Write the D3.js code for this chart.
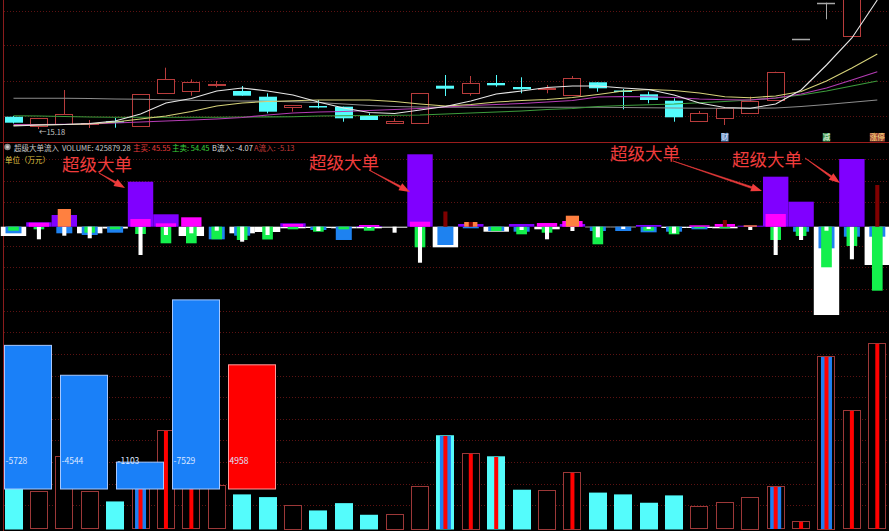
<!DOCTYPE html>
<html><head><meta charset="utf-8">
<script src="https://cdn.jsdelivr.net/npm/d3@7"></script>
<style>
html,body{margin:0;padding:0;background:#000;overflow:hidden;}
svg{display:block;}
text{font-family:"Noto Sans CJK SC","Noto Sans",sans-serif;}
</style></head><body>
<svg id="c" width="889" height="531"></svg>
<script>
// ---------- data ----------
const bars = d3.range(35);
const openP  = [15.313,15.22,15.24,15.243,15.267,15.22,15.547,15.567,15.637,15.57,15.513,15.407,15.42,15.413,15.32,15.253,15.247,15.623,15.547,15.65,15.61,15.593,15.537,15.657,15.575,15.537,15.473,15.27,15.297,15.353,15.48,16.09,16.453,16.12,16.60];
const highP  = [15.32,15.30,15.58,15.28,15.30,15.54,15.803,15.687,15.67,15.62,15.547,15.43,15.48,15.413,15.347,15.297,15.547,15.73,15.72,15.73,15.707,15.63,15.72,15.657,15.59,15.563,15.497,15.37,15.397,15.513,15.763,16.09,16.453,16.76,17.40];
const lowP   = [15.245,15.19,15.235,15.20,15.203,15.213,15.547,15.523,15.607,15.523,15.347,15.363,15.397,15.263,15.28,15.24,15.247,15.52,15.523,15.613,15.547,15.547,15.537,15.563,15.387,15.447,15.263,15.27,15.23,15.353,15.48,16.09,16.287,16.12,16.58];
const closeP = [15.253,15.297,15.34,15.25,15.26,15.537,15.687,15.66,15.643,15.523,15.363,15.43,15.407,15.297,15.28,15.27,15.547,15.593,15.647,15.627,15.587,15.603,15.703,15.597,15.56,15.48,15.307,15.347,15.397,15.47,15.763,16.09,16.453,16.73,17.36];
const ma5  = [15.22,15.23,15.235,15.245,15.27,15.34,15.45,15.495,15.57,15.60,15.57,15.53,15.46,15.40,15.355,15.345,15.38,15.415,15.47,15.54,15.57,15.605,15.62,15.62,15.60,15.585,15.53,15.45,15.405,15.397,15.44,15.58,15.83,16.10,16.48];
const ma10 = [15.225,15.23,15.235,15.24,15.26,15.29,15.32,15.365,15.42,15.45,15.465,15.473,15.48,15.48,15.48,15.465,15.44,15.42,15.435,15.46,15.475,15.485,15.505,15.535,15.57,15.585,15.575,15.55,15.513,15.503,15.52,15.565,15.67,15.80,15.94];
const ma20 = [15.235,15.235,15.237,15.24,15.25,15.26,15.27,15.28,15.29,15.305,15.33,15.35,15.36,15.365,15.375,15.385,15.395,15.41,15.425,15.435,15.445,15.46,15.475,15.51,15.515,15.513,15.505,15.49,15.483,15.48,15.50,15.54,15.60,15.68,15.763];
const ma30 = [15.323,15.32,15.315,15.31,15.307,15.307,15.307,15.307,15.308,15.31,15.311,15.313,15.32,15.323,15.325,15.328,15.33,15.34,15.35,15.36,15.37,15.385,15.395,15.415,15.425,15.433,15.44,15.453,15.465,15.48,15.50,15.53,15.57,15.62,15.67];
const ma60 = [15.497,15.497,15.497,15.495,15.49,15.487,15.482,15.477,15.473,15.47,15.467,15.463,15.455,15.44,15.425,15.415,15.41,15.407,15.407,15.407,15.407,15.407,15.407,15.407,15.405,15.402,15.40,15.397,15.397,15.397,15.40,15.415,15.435,15.457,15.48];
const priceGrid = [16.37,16.03,15.673,15.32];
const lowLabel = "15.18";

// fund flow (万元)
const superIn = [0,203,540,0,0,2079,573,0,0,0,0,157,0,0,32,0,3344,0,125,0,125,0,125,0,0,79,0,0,0,46,2310,1155,0,3127,0];
const bigIn   = [0,185,0,0,0,356,157,434,0,0,0,125,0,0,79,0,231,0,0,0,0,171,263,0,0,0,0,65,125,0,587,0,0,0,0];
const midIn   = [0,0,818,0,0,0,0,0,0,0,0,0,0,0,0,0,0,0,217,0,0,0,508,0,0,0,0,0,0,65,0,0,0,0,0];
const hotIn   = [0,0,0,0,0,0,0,0,0,0,0,0,0,0,0,0,0,702,217,0,0,0,0,0,0,0,0,0,309,0,0,0,0,0,1926];
const outAll  = [-430,0,0,-305,-83,0,0,-430,0,-305,-245,-74,-60,-74,-74,-46,0,-952,0,-231,0,-120,0,-28,-28,0,-60,-60,-74,0,0,0,-4079,0,-1769];
const outBig  = [-305,0,-305,-383,-277,0,0,0,-582,-416,0,0,-152,-614,0,0,0,-845,-74,-199,-231,0,0,-199,-199,-259,-231,-120,0,0,0,-231,-998,-462,-462];
const outMid  = [-185,-120,0,-277,-120,-337,-767,-767,-582,-614,-591,-120,-231,-120,-185,0,-952,0,0,-199,-351,-277,0,-813,0,-185,-351,-74,-74,0,-614,-430,-1875,-891,-2956];
const outSup  = [0,-582,-416,-536,0,-1307,-383,-305,-185,-693,-383,0,-199,0,-60,-277,-1663,0,0,0,-152,-582,-199,-490,-106,-106,-305,0,0,-152,-1307,-614,-185,-1506,0];

// volume
const volume = [112400,87100,167400,87100,64200,123800,227000,204100,100900,80300,74100,56600,43600,60300,33700,36000,100200,215600,175900,167400,91000,91000,132300,84400,80300,61200,78000,52700,62600,75000,98600,18300,397400,272900,425879.28];
const stripeBlue = [0,0,0,0,0,1,0,0,0,0,0,0,0,0,0,0,0,1,0,0,0,0,0,0,0,0,0,0,0,0,1,0,1,0,0];
const stripeRed  = [0,0,0,0,0,1,1,1,0,0,0,0,0,0,0,0,0,1,1,1,0,0,1,0,0,0,0,0,0,0,1,1,1,1,1];

// summary bars
const summaryKeys = ["s1","s2","s3","s4","s5"];
const summaryValues = [-5728,-4544,-1103,-7529,4958];

// title
const titleParts = [
  {t:"超级大单流入", c:"#c8c8c8", x:14},
  {t:"VOLUME: 425879.28", c:"#c8c8c8", x:62},
  {t:"主买: 45.55", c:"#e83c3c", x:133},
  {t:"主卖: 54.45", c:"#3cd23c", x:172},
  {t:"B流入: -4.07", c:"#dcdcdc", x:212},
  {t:"A流入: -5.13", c:"#c83c3c", x:254}
];
const annotations = [
  {text:"超级大单", tx:62, ty:171, x1:99, y1:173, x2:125, y2:188},
  {text:"超级大单", tx:309, ty:169, x1:369, y1:170, x2:410, y2:192},
  {text:"超级大单", tx:610, ty:160, x1:673, y1:161, x2:762, y2:191},
  {text:"超级大单", tx:732, ty:166, x1:805, y1:158, x2:840, y2:183}
];
const icons = [{t:"财", bar:28, bg:"#4a7cb4", fg:"#e8f0ff"},{t:"减", bar:32, bg:"#3a8c4a", fg:"#e8ffe8"},{t:"涨停", bar:34, bg:"#a04a3a", fg:"#ffe080"}];

// ---------- drawing ----------
const svg = d3.select("#c");
svg.append("rect").attr("width",889).attr("height",531).attr("fill","#000");
const x = d3.scaleBand().domain(bars).range([0.8, 890]).paddingInner(0);
const cx = i => x(i) + x.bandwidth()/2;
const step = x.step();
const gridColor = "#5c1212";

// top pane
const yP = d3.scaleLinear().domain([15.32, 16.37]).range([116, 11]);
const topG = svg.append("g");
topG.append("clipPath").attr("id","clipTop").append("rect").attr("x",4).attr("y",0).attr("width",885).attr("height",142);
topG.selectAll("line.pg").data(priceGrid).join("line")
  .attr("x1",4).attr("x2",889).attr("y1",d=>Math.round(yP(d))+0.5).attr("y2",d=>Math.round(yP(d))+0.5)
  .attr("stroke",gridColor).attr("stroke-dasharray","1,2");
const cg = topG.append("g").attr("clip-path","url(#clipTop)");
const upC="#b83c3c", dnC="#54fcfc", flatC="#a8a8a8";
bars.forEach(i=>{
  const o=openP[i], c=closeP[i];
  const col = c>o?upC:(c<o?dnC:flatC);
  const xc = Math.floor(cx(i))+0.5;
  cg.append("line").attr("x1",xc).attr("x2",xc).attr("y1",yP(highP[i])).attr("y2",yP(lowP[i])).attr("stroke",col);
  const bw = Math.round(step*0.71);
  const x0 = Math.round(cx(i)-bw/2);
  if (c>o){
    const y0=yP(c), y1=yP(o);
    cg.append("rect").attr("x",x0+0.5).attr("y",Math.round(y0)+0.5).attr("width",bw-1).attr("height",Math.max(1,Math.round(y1-y0)))
      .attr("fill","#000").attr("stroke",upC);
  } else if (c<o){
    const y0=yP(o), y1=yP(c);
    cg.append("rect").attr("x",x0).attr("y",y0).attr("width",bw).attr("height",Math.max(1.5,y1-y0)).attr("fill",dnC);
  } else {
    cg.append("line").attr("x1",x0).attr("x2",x0+bw).attr("y1",Math.round(yP(o))+0.5).attr("y2",Math.round(yP(o))+0.5)
      .attr("stroke",flatC).attr("stroke-width",1.5);
  }
});
const maSets=[[ma60,"#8c8c8c"],[ma30,"#3c9c3c"],[ma20,"#b43cb4"],[ma10,"#d6d27a"],[ma5,"#e6e6e6"]];
const line = d3.line().x((d,i)=>cx(i)).y(d=>yP(d));
maSets.forEach(([arr,col])=>{
  cg.append("path").attr("d",line(arr)).attr("fill","none").attr("stroke",col).attr("stroke-width",1.1);
});
// low label
const minI = d3.minIndex(lowP);
topG.append("text").attr("x",cx(minI)).attr("y",yP(lowP[minI])+5.5).attr("font-size",7.5).attr("fill","#c8c8c8")
  .attr("font-family","Liberation Sans, sans-serif").text("←"+lowLabel);
// icons
icons.forEach(ic=>{
  const w = ic.t.length*7.5;
  const gx = cx(ic.bar)-w/2;
  topG.append("rect").attr("x",gx).attr("y",133).attr("width",w).attr("height",8.5).attr("fill",ic.bg);
  topG.append("text").attr("x",gx+w/2).attr("y",140.3).attr("text-anchor","middle").attr("font-size",7.5).attr("fill",ic.fg).text(ic.t);
});

// separators
svg.append("line").attr("x1",0).attr("x2",889).attr("y1",142.5).attr("y2",142.5).attr("stroke","#9a1c1c");
svg.append("line").attr("x1",3.5).attr("x2",3.5).attr("y1",0).attr("y2",531).attr("stroke","#8a1c1c");

// lower grid
const gy = d3.scaleLinear().domain([0,1]).range([159,180.65]);
svg.selectAll("line.lg").data(d3.range(17).filter(k=>k!==3)).join("line")
  .attr("x1",4).attr("x2",889).attr("y1",d=>Math.round(gy(d))+0.5).attr("y2",d=>Math.round(gy(d))+0.5)
  .attr("stroke",gridColor).attr("stroke-dasharray","1,2");

// title
svg.append("circle").attr("cx",7.5).attr("cy",147).attr("r",3.2).attr("fill","#8a8a8a");
svg.append("circle").attr("cx",7.5).attr("cy",147).attr("r",1.4).attr("fill","#d0d0d0");
titleParts.forEach(p=>{
  svg.append("text").attr("x",p.x).attr("y",150.5).attr("font-size",7.5).attr("fill",p.c).text(p.t);
});
svg.append("text").attr("x",5).attr("y",162.5).attr("font-size",7.5).attr("fill","#e0c846").text("单位（万元）");

// fund flow pane
const yM = d3.scaleLinear().domain([0,1000]).range([226.7, 226.7-21.65]);
const flow = svg.append("g");
function flowBars(arr, col, wFrac){
  flow.selectAll(null).data(bars.filter(i=>arr[i]!==0)).join("rect")
    .attr("x",i=>cx(i)-step*wFrac/2).attr("width",step*wFrac)
    .attr("y",i=>Math.min(yM(arr[i]),yM(0))).attr("height",i=>Math.abs(yM(arr[i])-yM(0)))
    .attr("fill",col);
}
flowBars(outAll,"#ffffff",1.0);
flowBars(outBig,"#1e82f0",0.63);
flowBars(outMid,"#14f04c",0.42);
flowBars(outSup,"#ffffff",0.16);
flowBars(superIn,"#8000ff",1.0);
flowBars(bigIn,"#ff00ff",0.8);
flowBars(midIn,"#ff8040",0.52);
flowBars(hotIn,"#800000",0.16);

// annotations
const red="#f03c3c";
annotations.forEach(a=>{
  svg.append("text").attr("x",a.tx).attr("y",a.ty).attr("font-size",17.5).attr("fill",red).text(a.text);
  const ang = Math.atan2(a.y2-a.y1, a.x2-a.x1);
  const L = 11, hw = 4;
  const bx = a.x2 - L*Math.cos(ang), by = a.y2 - L*Math.sin(ang);
  const nx = -Math.sin(ang), ny = Math.cos(ang);
  svg.append("path").attr("d",`M${a.x1},${a.y1}L${bx+nx*0.9},${by+ny*0.9}L${bx-nx*0.9},${by-ny*0.9}Z`).attr("fill",red).attr("stroke",red).attr("stroke-width",0.6);
  svg.append("path").attr("d",`M${a.x2},${a.y2}L${bx+nx*hw},${by+ny*hw}L${bx-nx*hw},${by-ny*hw}Z`).attr("fill",red);
});

// volume
const yV = d3.scaleLinear().domain([0, 425879.28]).range([529.5, 343.3]);
const vg = svg.append("g");
bars.forEach(i=>{
  const bw = Math.round(step*0.71);
  const x0 = Math.round(cx(i)-bw/2);
  const yt = yV(volume[i]), yb = yV(0);
  const up = closeP[i] >= openP[i];
  if (up){
    vg.append("rect").attr("x",x0+0.5).attr("y",Math.round(yt)+0.5).attr("width",bw-1).attr("height",Math.round(yb-yt)-1)
      .attr("fill","#000").attr("stroke","#9c3838");
  } else {
    vg.append("rect").attr("x",x0).attr("y",yt).attr("width",bw).attr("height",yb-yt).attr("fill",dnC);
  }
  if (stripeBlue[i]) vg.append("rect").attr("x",cx(i)-5.5).attr("y",Math.round(yt)+1).attr("width",11).attr("height",yb-Math.round(yt)-1.5).attr("fill","#1e7ff0");
  if (stripeRed[i]) vg.append("rect").attr("x",cx(i)-2).attr("y",Math.round(yt)+1).attr("width",4).attr("height",yb-Math.round(yt)-1.5).attr("fill","#ff0000");
});

// summary overlay bars
const xs = d3.scaleBand().domain(summaryKeys).range([4,276]).paddingInner(1/7);
const ys = d3.scaleLinear().domain([0,8000]).range([489.5, 489.5-202]);
summaryKeys.forEach((k,i)=>{
  const v = summaryValues[i];
  const col = v<0 ? "#1a80f8" : "#ff0000";
  const st = v<0 ? "#a6c8ff" : "#ff9a9a";
  svg.append("rect").attr("x",xs(k)+0.5).attr("y",ys(Math.abs(v))+0.5).attr("width",xs.bandwidth()-1).attr("height",ys(0)-ys(Math.abs(v))-1)
    .attr("fill",col).attr("stroke",st);
  svg.append("text").attr("x",xs(k)+1.5).attr("y",463.5).attr("font-size",8.5).attr("fill","#dce6ff")
    .attr("font-family","Liberation Sans, sans-serif").text(v);
});
</script>
</body></html>
